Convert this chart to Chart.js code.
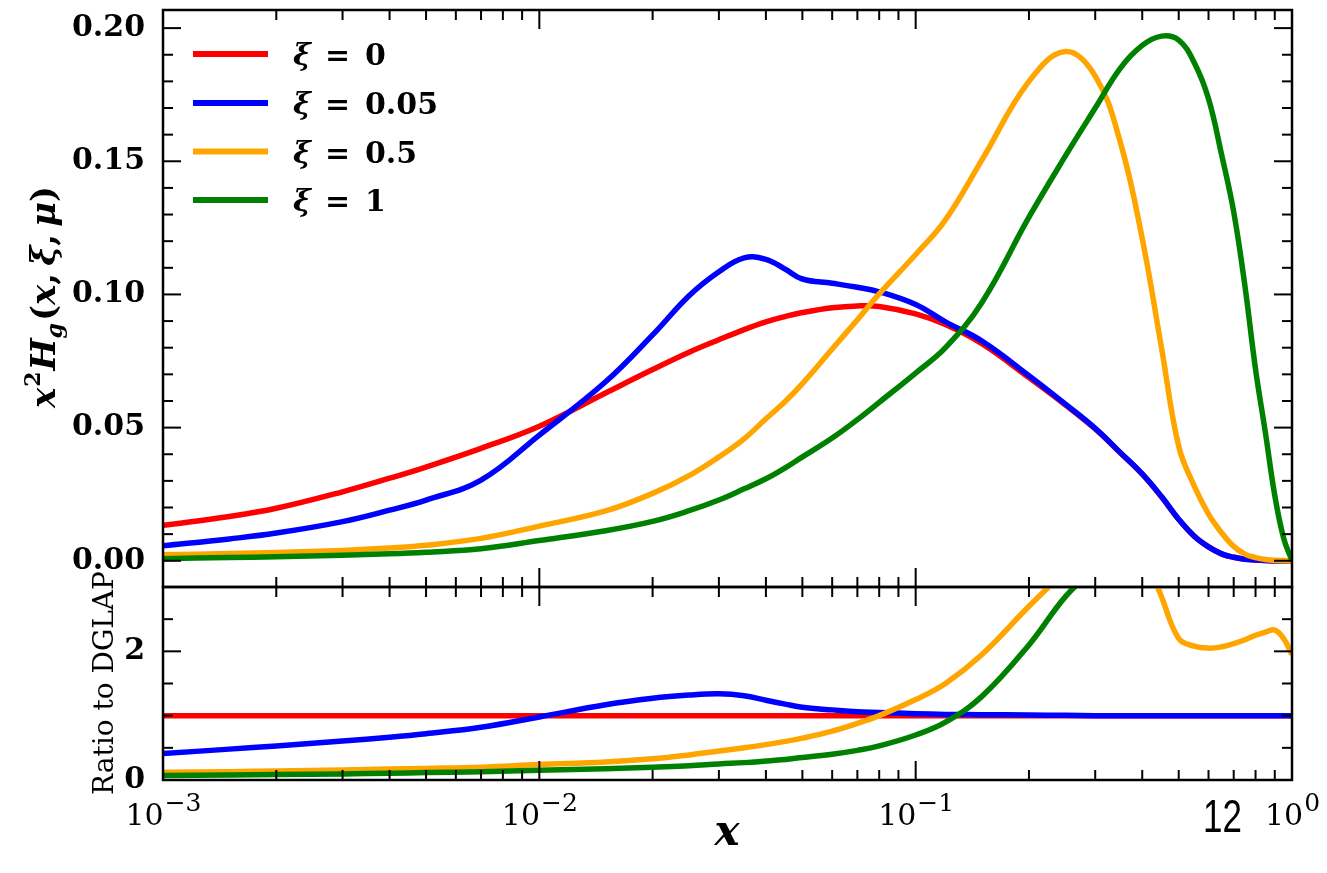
<!DOCTYPE html>
<html>
<head>
<meta charset="utf-8">
<title>x^2 H_g ratio to DGLAP</title>
<script src="https://cdn.jsdelivr.net/npm/chart.js@4.4.1/dist/chart.umd.min.js"></script>
<style>
  html, body { margin: 0; padding: 0; background: #fff; }
  #wrap { position: relative; width: 1327px; height: 873px; overflow: hidden; }
  #wrap canvas { position: absolute; left: 0; top: 0; }
</style>
</head>
<body>
<div id="wrap">
  <canvas id="topChart" width="1327" height="873"></canvas>
  <canvas id="ratioChart" width="1327" height="873"></canvas>
</div>
<script>
// x grid (log axis from 1e-3 to 1)
const xValues = [0.001, 0.0015, 0.002, 0.003, 0.004, 0.005, 0.007, 0.01, 0.015, 0.02,
  0.025, 0.03, 0.035, 0.04, 0.045, 0.05, 0.06, 0.07, 0.08, 0.1,
  0.12, 0.15, 0.2, 0.25, 0.3, 0.35, 0.4, 0.45, 0.5, 0.55,
  0.6, 0.65, 0.7, 0.75, 0.8, 0.85, 0.9, 0.95, 1.0];

// top panel: x^2 H_g(x, xi, mu)
const hXi0 = [0.0133, 0.0166, 0.0197, 0.0259, 0.031, 0.0352, 0.0422, 0.0505, 0.063, 0.0718,
  0.0783, 0.0830, 0.0868, 0.0897, 0.0917, 0.0932, 0.0950, 0.0957, 0.0955, 0.0927,
  0.0887, 0.0815, 0.0688, 0.0585, 0.0495, 0.0405, 0.0325, 0.024, 0.0155, 0.0092,
  0.0052, 0.0026, 0.0013, 0.0006, 0.0003, 0.0001, 0, 0, 0];
const hXi005 = [0.0056, 0.0082, 0.0104, 0.0147, 0.019, 0.0228, 0.0303, 0.0472, 0.0672, 0.0848,
  0.0995, 0.1085, 0.1137, 0.1132, 0.1095, 0.1058, 0.1042, 0.1027, 0.1010, 0.0962,
  0.0897, 0.0825, 0.0695, 0.0588, 0.0497, 0.0406, 0.0326, 0.0241, 0.0156, 0.0092,
  0.0052, 0.0026, 0.0013, 0.0006, 0.0003, 0.0001, 0, 0, 0];
const hXi05 = [0.0023, 0.0027, 0.0031, 0.0039, 0.0048, 0.0058, 0.0084, 0.013, 0.0187, 0.0253,
  0.032, 0.039, 0.0458, 0.0533, 0.0598, 0.0665, 0.0795, 0.0905, 0.1002, 0.115,
  0.128, 0.1505, 0.180, 0.1912, 0.182, 0.157, 0.121, 0.080, 0.043, 0.028,
  0.0175, 0.0105, 0.0054, 0.0025, 0.0012, 0.0005, 0.0002, 0.0001, 0];
const hXi1 = [0.0008, 0.0012, 0.0015, 0.0021, 0.0026, 0.0032, 0.0045, 0.0076, 0.0113, 0.0148,
  0.0188, 0.0228, 0.027, 0.0308, 0.0349, 0.039, 0.0461, 0.053, 0.0595, 0.0705,
  0.080, 0.097, 0.129, 0.152, 0.170, 0.185, 0.1935, 0.197, 0.1955, 0.187,
  0.1735, 0.1525, 0.131, 0.103, 0.072, 0.048, 0.0245, 0.0085, 0];

// bottom panel: ratio to DGLAP (null = far above the visible range)
const ratioXi0 = xValues.map(() => 1);
const ratioXi005 = [0.41, 0.48, 0.53, 0.605, 0.665, 0.72, 0.82, 0.98, 1.17, 1.27,
  1.32, 1.34, 1.31, 1.24, 1.18, 1.13, 1.09, 1.06, 1.05, 1.03,
  1.02, 1.015, 1.01, 1.005, 1.0, 1.0, 1.0, 1.0, 1.0, 1.0,
  1.0, 1.0, 1.0, 1.0, 1.0, 1.0, 1.0, 1.0, 1.0];
const ratioXi05 = [0.12, 0.13, 0.14, 0.155, 0.17, 0.18, 0.2, 0.24, 0.28, 0.33,
  0.39, 0.45, 0.5, 0.55, 0.6, 0.65, 0.76, 0.88, 1.0, 1.25,
  1.5, 1.95, 2.7, 3.25, null, null, 3.6, 2.85, 2.2, 2.08,
  2.05, 2.07, 2.12, 2.18, 2.25, 2.3, 2.33, 2.2, 1.95];
const ratioXi1 = [0.07, 0.078, 0.085, 0.095, 0.105, 0.115, 0.13, 0.15, 0.175, 0.2,
  0.22, 0.25, 0.27, 0.295, 0.32, 0.35, 0.40, 0.46, 0.53, 0.70,
  0.9, 1.3, 2.1, 2.85, 3.3, null, null, null, null, null,
  null, null, null, null, null, null, null, null, null];

const xiLabels = ['0', '0.05', '0.5', '1'];
const lineColors = ['#ff0000', '#0000ff', '#ffa500', '#008000'];
const topYTicks = [0, 0.05, 0.10, 0.15, 0.20];
const ratioYTicks = [0, 2];
const xDecades = [0.001, 0.01, 0.1, 1];
const xDecadeExp = ['\u22123', '\u22122', '\u22121', '0'];

const SERIF = '"DejaVu Serif", serif';

function toPoints(ys) {
  return xValues.map((x, i) => ({ x: x, y: ys[i] }));
}

function makeDatasets(series) {
  return series.map((ys, i) => ({
    label: 'xi = ' + xiLabels[i],
    data: toPoints(ys),
    borderColor: lineColors[i],
    backgroundColor: lineColors[i],
    borderWidth: 5.5,
    pointRadius: 0,
    fill: false,
    spanGaps: false,
    clip: 0,
    tension: 0.4,
    order: 3 - i
  }));
}

function seg(ctx, x1, y1, x2, y2) {
  ctx.beginPath();
  ctx.moveTo(x1, y1);
  ctx.lineTo(x2, y2);
  ctx.stroke();
}

// inward ticks on all four sides + frame
function frameTicks(yMinorStep, yMinorCount, majorEvery) {
  return {
    id: 'frameTicks',
    afterDatasetsDraw(chart) {
      const { ctx, chartArea: a, scales } = chart;
      ctx.save();
      ctx.strokeStyle = '#000';
      ctx.lineWidth = 2;
      for (let e = -3; e <= 0; e++) {
        for (let m = 1; m <= 9; m++) {
          if (e === 0 && m > 1) break;
          const px = scales.x.getPixelForValue(m * Math.pow(10, e));
          const len = m === 1 ? 19 : 10;
          seg(ctx, px, a.top, px, a.top + len);
          seg(ctx, px, a.bottom, px, a.bottom - len);
        }
      }
      for (let i = 0; i <= yMinorCount; i++) {
        const py = scales.y.getPixelForValue(i * yMinorStep);
        if (py < a.top + 1 || py > a.bottom - 1) continue;
        const len = i % majorEvery === 0 ? 18 : 10;
        seg(ctx, a.left, py, a.left + len, py);
        seg(ctx, a.right, py, a.right - len, py);
      }
      ctx.lineWidth = 2.5;
      ctx.strokeRect(a.left, a.top, a.right - a.left, a.bottom - a.top);
      ctx.restore();
    }
  };
}

function drawPieces(ctx, pieces) {
  let total = 0;
  pieces.forEach(p => { ctx.font = p[1]; total += ctx.measureText(p[0]).width + (p[3] || 0); });
  let x = -total / 2;
  pieces.forEach(p => {
    ctx.font = p[1];
    ctx.fillText(p[0], x, p[2]);
    x += ctx.measureText(p[0]).width + (p[3] || 0);
  });
}

const topDecor = {
  id: 'topDecor',
  afterDraw(chart) {
    const ctx = chart.ctx;
    ctx.save();
    ctx.fillStyle = '#000';
    ctx.textBaseline = 'alphabetic';
    // y axis title
    const BI = 'italic bold 34px ' + SERIF;
    const B = 'bold 34px ' + SERIF;
    ctx.translate(55, 297);
    ctx.rotate(-Math.PI / 2);
    drawPieces(ctx, [
      ['x', BI, 0, 1], ['2', 'bold 22px ' + SERIF, -15, 1], ['H', BI, 0, 0],
      ['g', 'italic bold 22px ' + SERIF, 7, 2], ['(', B, 0, 0], ['x', BI, 0, 0],
      [',', B, 0, 7], ['\u03be', BI, 0, 0], [',', B, 0, 7], ['\u03bc', BI, 0, 0], [')', B, 0, 0]
    ]);
    ctx.restore();

    // legend
    ctx.save();
    const rows = [54, 103, 151.5, 200];
    xiLabels.forEach((lab, i) => {
      ctx.strokeStyle = lineColors[i];
      ctx.lineWidth = 6;
      seg(ctx, 193, rows[i], 268, rows[i]);
      ctx.fillStyle = '#000';
      ctx.font = 'italic bold 30px ' + SERIF;
      ctx.fillText('\u03be', 293, rows[i] + 11);
      ctx.font = 'bold 30px ' + SERIF;
      ctx.fillText('=', 325, rows[i] + 11);
      ctx.fillText(lab, 365, rows[i] + 11);
    });
    ctx.restore();
  }
};

const ratioDecor = {
  id: 'ratioDecor',
  afterDraw(chart) {
    const ctx = chart.ctx;
    const xs = chart.scales.x;
    ctx.save();
    ctx.fillStyle = '#000';
    ctx.textBaseline = 'alphabetic';
    // x tick labels 10^n
    xDecades.forEach((v, i) => {
      const px = xs.getPixelForValue(v);
      ctx.font = '30px ' + SERIF;
      const w1 = ctx.measureText('10').width;
      ctx.font = '25px ' + SERIF;
      const w2 = ctx.measureText(xDecadeExp[i]).width;
      const x0 = px - (w1 + w2) / 2;
      ctx.font = '30px ' + SERIF;
      ctx.fillText('10', x0, 825);
      ctx.font = '25px ' + SERIF;
      ctx.fillText(xDecadeExp[i], x0 + w1 + 1, 811);
    });
    // x axis title
    ctx.font = 'italic bold 42px ' + SERIF;
    ctx.textAlign = 'center';
    ctx.fillText('x', 727, 845);
    // ratio label
    ctx.save();
    ctx.translate(103, 683);
    ctx.rotate(-Math.PI / 2);
    ctx.font = '28px ' + SERIF;
    ctx.fillText('Ratio to DGLAP', 0, 10);
    ctx.restore();
    // page number
    ctx.save();
    ctx.translate(1203, 832);
    ctx.scale(0.76, 1);
    ctx.textAlign = 'left';
    ctx.font = '46px "Liberation Sans", sans-serif';
    ctx.fillText('12', 0, 0);
    ctx.restore();
    ctx.restore();
  }
};

function yAxis(min, max, ticks, fmt) {
  return {
    type: 'linear',
    min: min,
    max: max,
    afterBuildTicks(s) { s.ticks = ticks.map(v => ({ value: v })); },
    afterFit(s) { s.width = 163; s.paddingTop = 0; s.paddingBottom = 0; },
    grid: { display: false, drawTicks: false },
    border: { display: false },
    ticks: {
      padding: 18,
      color: '#000',
      autoSkip: false,
      font: { family: 'DejaVu Serif', size: 30, weight: 'bold' },
      callback: fmt
    }
  };
}

const baseOptions = (padding, y) => ({
  responsive: false,
  animation: false,
  events: [],
  layout: { padding: padding },
  plugins: { legend: { display: false }, tooltip: { enabled: false } },
  scales: {
    x: { type: 'logarithmic', min: 0.001, max: 1, display: false },
    y: y
  }
});

new Chart(document.getElementById('topChart'), {
  type: 'line',
  data: { datasets: makeDatasets([hXi0, hXi005, hXi05, hXi1]) },
  options: baseOptions({ left: 0, right: 35, top: 10, bottom: 286 },
    yAxis(-0.00985, 0.2068, topYTicks, v => Number(v).toFixed(2))),
  plugins: [frameTicks(0.01, 20, 5), topDecor]
});

new Chart(document.getElementById('ratioChart'), {
  type: 'line',
  data: { datasets: makeDatasets([ratioXi0, ratioXi005, ratioXi05, ratioXi1]) },
  options: baseOptions({ left: 0, right: 35, top: 587, bottom: 93 },
    yAxis(0, 3, ratioYTicks, v => String(v))),
  plugins: [frameTicks(0.5, 6, 4), ratioDecor]
});
</script>
</body>
</html>
